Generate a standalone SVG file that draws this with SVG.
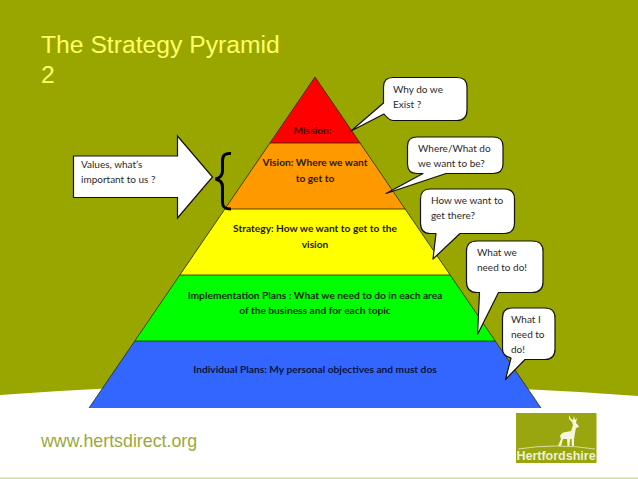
<svg xmlns="http://www.w3.org/2000/svg" width="638" height="479" viewBox="0 0 638 479">
<style>
.lvl{stroke:none}
.edge{fill:none;stroke:#23260a;stroke-width:.8}
.call{fill:#fff;stroke:#111;stroke-width:1.2;stroke-linejoin:round}
.b{font-family:Lato,"Open Sans",sans-serif;font-weight:700;font-size:10.2px;fill:#1a1a1a;text-anchor:middle}
.n{font-family:Lato,"Open Sans",sans-serif;font-size:10px;fill:#2a2a2a}
.t{font-family:"Liberation Sans",Arial,sans-serif;font-size:24.700px;fill:#ffff66}
</style>
<rect width="638" height="479" fill="#fff"/>
<path d="M0 0H638V396Q320 372 0 395Z" fill="#99a600"/>
<rect y="477.500" width="638" height="1.500" fill="#d6dca0"/>
<text class="t" x="41" y="53">The Strategy Pyramid</text>
<text class="t" x="41" y="83">2</text>
<text x="41" y="447" font-family="'Liberation Sans',Arial,sans-serif" font-size="17.800px" fill="#9aa83c">www.hertsdirect.org</text>
<g id="pyramid">
<g id="level-mission"><polygon class="lvl" points="315,77 360,143 270,143" fill="#ff0000"/><text class="b" x="312.500" y="134" style="fill:#3a0808">Mission:</text></g>
<g id="level-vision"><polygon class="lvl" points="270,143 360,143 405,209 225,209" fill="#ff9900"/><text class="b" x="315" y="166" style="fill:#2a1800">Vision: Where we want</text><text class="b" x="315" y="182" style="fill:#2a1800">to get to</text></g>
<g id="level-strategy"><polygon class="lvl" points="225,209 405,209 450,275 180,275" fill="#ffff00"/><text class="b" x="315" y="232">Strategy: How we want to get to the</text><text class="b" x="315" y="248">vision</text></g>
<g id="level-implementation"><polygon class="lvl" points="180,275 450,275 495,341 135,341" fill="#00ff00"/><text class="b" x="315" y="299" style="fill:#0a2a0a">Implementation Plans : What we need to do in each area</text><text class="b" x="315" y="314" style="fill:#0a2a0a">of the business and for each topic</text></g>
<g id="level-individual"><polygon class="lvl" points="135,341 495,341 541,408 89,408" fill="#3366ff"/><text class="b" x="315" y="373" style="fill:#0a1440">Individual Plans: My personal objectives and must dos</text></g>
<path class="edge" d="M89 408L315 77L541 408M270 143H360M225 209H405M180 275H450M135 341H495"/>
</g>
<g id="values-arrow"><polygon points="73.500,156 177.500,156 177.500,136 212.500,177 177.500,218 177.500,197.500 73.500,197.500" fill="#fff" stroke="#111" stroke-width="1.200"/><text class="n" x="81" y="168">Values, what’s</text><text class="n" x="81" y="183">important to us ?</text></g>
<g id="brace"><path d="M231 153.500C225 153 222.500 155 222.500 161V171C222.500 176 220 178 215.500 179C220 180 222.500 182 222.500 187V202C222.500 207.500 225 209 231 209" fill="none" stroke="#000" stroke-width="3"/></g>
<g id="callout-why"><path class="call" d="M393 77.500H457Q467 77.500 467 87V110Q467 120.500 457 120.500H393Q389 120.500 384 114L351 131L383.500 103V87Q383.500 77.500 393 77.500Z"/><text class="n" x="393" y="93">Why do we</text><text class="n" x="393" y="108">Exist ?</text></g>
<g id="callout-where"><path class="call" d="M417 137H493Q503 137 503 146V164Q503 173.500 493 173.500H446L386 193.500L423 173.500H417Q407.500 173.500 407.500 164V146Q407.500 137 417 137Z"/><text class="n" x="418" y="152">Where/What do</text><text class="n" x="418" y="167">we want to be?</text></g>
<g id="callout-how"><path class="call" d="M430 189H504Q514.500 189 514.500 199V223Q514.500 233.500 504 233.500H460L433 259L436 233.500H430Q420.500 233.500 420.500 223V199Q420.500 189 430 189Z"/><text class="n" x="431" y="204">How we want to</text><text class="n" x="431" y="219">get there?</text></g>
<g id="callout-what-we"><path class="call" d="M477 241H532Q543 241 543 251V282Q543 292.500 532 292.500H498.500L477.500 334.500L479.500 292.500H477Q466.500 292.500 466.500 282V251Q466.500 241 477 241Z"/><text class="n" x="477" y="256">What we</text><text class="n" x="477" y="271">need to do!</text></g>
<g id="callout-what-i"><path class="call" d="M512 308H545Q555 308 555 318V349Q555 359.500 545 359.500H525L505.500 379.500L511 358Q502.500 356 502.500 349V318Q502.500 308 512 308Z"/><text class="n" x="511" y="323">What I</text><text class="n" x="511" y="338">need to</text><text class="n" x="511" y="353">do!</text></g>
<g id="logo">
<rect x="516" y="413" width="80.500" height="50" fill="#99a60f"/>
<path d="M518 449Q556 443 595 449" fill="none" stroke="#e8ecc0" stroke-width=".8"/>
<path d="M569 415L571 419L573 420L574 416L575 420L577 418L576 423L578 425L579 427L576 428L575 433L574 440L574 446L572 446L571.500 439L570 439L569.500 446L567.500 446L567 439L563 439L561 446L558 446L561 439L560 436Q562 432 566 432L571 431L573 425L572 422L569 419Z" fill="#f4f6dc"/>
<text x="556" y="460" font-family="'Liberation Sans',Arial,sans-serif" font-size="12.500px" font-weight="700" fill="#eef1d0" text-anchor="middle">Hertfordshire</text>
</g>
</svg>
